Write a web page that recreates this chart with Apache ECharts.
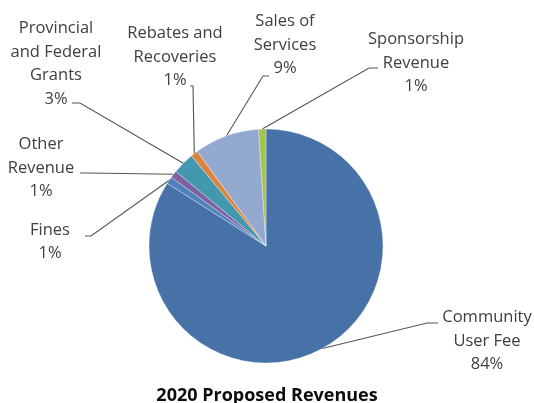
<!DOCTYPE html>
<html>
<head>
<meta charset="utf-8">
<title>2020 Proposed Revenues</title>
<script src="https://cdn.jsdelivr.net/npm/echarts@6/dist/echarts.min.js"></script>
<style>
  html, body { margin: 0; padding: 0; background: #fff; }
  #chart { width: 534px; height: 403px; }
</style>
</head>
<body>
<div id="chart"></div>
<script>
// Revenue categories (clockwise from 12 o'clock) and their shares in percent
const categories = [
  'Community\nUser Fee',
  'Fines',
  'Other\nRevenue',
  'Provincial\nand Federal\nGrants',
  'Rebates and\nRecoveries',
  'Sales of\nServices',
  'Sponsorship\nRevenue'
];
const shares = [84, 1, 1, 3, 1, 9, 1];
const chartTitle = '2020 Proposed Revenues';

const sliceColors = ['#4672A8', '#4F81BD', '#7D60A0', '#4198AF', '#DB843D', '#93A9CF', '#A5C249'];

// Label block centres and where each leader line meets its label
const labelPlacement = [
  { cx: 487, cy: 341, end: [438, 323], knee: [427, 323] },
  { cx: 50,  cy: 242, end: [85, 236],  knee: [91, 236] },
  { cx: 41,  cy: 168, end: [80, 173],  knee: [88, 173] },
  { cx: 56,  cy: 64,  end: [72, 103],  knee: [80, 103] },
  { cx: 175, cy: 57,  end: [190, 86],  knee: [193, 86] },
  { cx: 285, cy: 45,  end: [269, 76],  knee: [263, 76] },
  { cx: 416, cy: 63,  end: [378, 68],  knee: [369, 68] }
];

const chart = echarts.init(document.getElementById('chart'), null, { renderer: 'canvas' });

chart.setOption({
  animation: false,
  backgroundColor: '#ffffff',
  title: {
    text: chartTitle,
    left: 'center',
    top: 382,
    textStyle: {
      fontFamily: 'Open Sans',
      fontWeight: 'bold',
      fontSize: 18,
      color: '#0d0d0d'
    }
  },
  series: [{
    type: 'pie',
    center: [266, 246],
    radius: [0, 117],
    startAngle: 90,
    clockwise: true,
    avoidLabelOverlap: false,
    percentPrecision: 0,
    data: categories.map((name, i) => ({
      name: name,
      value: shares[i],
      itemStyle: { color: sliceColors[i] }
    })),
    itemStyle: {
      borderColor: 'rgba(255,255,255,0.55)',
      borderWidth: 0.6
    },
    label: {
      show: true,
      position: 'outside',
      formatter: '{b}\n{d}%',
      fontFamily: 'Open Sans',
      fontSize: 16.5,
      lineHeight: 23.5,
      color: '#404040',
      align: 'center'
    },
    labelLine: {
      show: true,
      length: 10,
      length2: 10,
      lineStyle: { color: '#555555', width: 1.1 }
    },
    labelLayout: function (params) {
      const p = labelPlacement[params.dataIndex];
      const anchor = params.labelLinePoints ? params.labelLinePoints[0] : p.knee;
      return {
        x: p.cx,
        y: p.cy,
        align: 'center',
        verticalAlign: 'middle',
        labelLinePoints: [anchor, p.knee, p.end]
      };
    },
    emphasis: { disabled: true }
  }]
});
</script>
</body>
</html>
